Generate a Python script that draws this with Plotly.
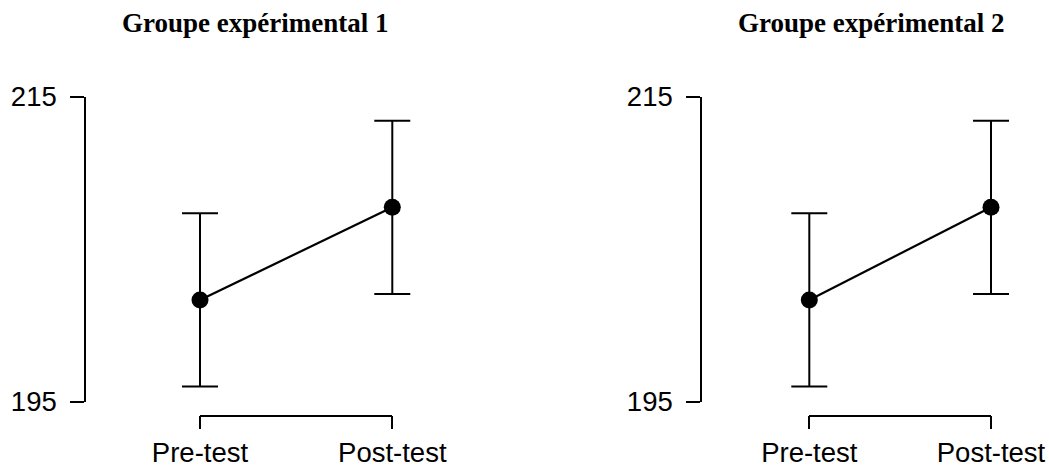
import plotly.graph_objects as go

W, H = 1049, 465

conditions = ["Pre-test", "Post-test"]
titles = ["Groupe expérimental 1", "Groupe expérimental 2"]

means_g1 = [201.67, 207.75]
err_g1 = [5.68, 5.68]
means_g2 = [201.67, 207.75]
err_g2 = [5.68, 5.68]

y_ticks = [195, 215]


def px_x(v):
    return v / W


def px_y(v):
    return 1 - v / H


fig = go.Figure()

panels = [
    dict(means=means_g1, err=err_g1, x0=200, x1=392.3, yaxis_x=85, title_x=255),
    dict(means=means_g2, err=err_g2, x0=809.3, x1=991, yaxis_x=701, title_x=871),
]

pad = 0.25  # extra range around the two conditions so caps are not clipped
tick_font = dict(family="Liberation Sans, Arial", size=27.5, color="black")

for i, p in enumerate(panels):
    n_data = str(2 * i + 1) if i else ""
    n_disp = str(2 * i + 2)
    n_y = str(i + 1) if i else ""
    span = p["x1"] - p["x0"]

    # means with error bars
    fig.add_trace(go.Scatter(
        x=[0, 1],
        y=p["means"],
        mode="lines+markers",
        line=dict(color="black", width=2.2),
        marker=dict(color="black", size=17),
        error_y=dict(type="data", array=p["err"], color="black",
                     thickness=2, width=18),
        cliponaxis=False,
        showlegend=False,
        hoverinfo="skip",
        xaxis="x" + n_data,
        yaxis="y" + n_y,
    ))
    # invisible trace so the bracket-style category axis gets drawn
    fig.add_trace(go.Scatter(
        x=conditions,
        y=p["means"],
        mode="markers",
        marker=dict(opacity=0),
        showlegend=False,
        hoverinfo="skip",
        xaxis="x" + n_disp,
        yaxis="y" + n_y,
    ))

    fig.update_layout({
        "xaxis" + n_data: dict(
            domain=[px_x(p["x0"] - pad * span), px_x(p["x1"] + pad * span)],
            range=[-pad, 1 + pad],
            anchor="y" + n_y,
            visible=False,
            automargin=False,
        ),
        "xaxis" + n_disp: dict(
            domain=[px_x(p["x0"]), px_x(p["x1"])],
            range=[0, 1],
            anchor="free",
            position=px_y(415.7),
            showline=True, linecolor="black", linewidth=1.5,
            ticks="outside", ticklen=13, tickwidth=1.5, tickcolor="black",
            showgrid=False, zeroline=False,
            tickfont=tick_font,
            ticklabelstandoff=0,
            automargin=False,
        ),
        "yaxis" + n_y: dict(
            domain=[px_y(401.7), px_y(96.7)],
            range=[195, 215],
            anchor="free",
            position=px_x(p["yaxis_x"]),
            tickvals=y_ticks,
            showline=True, linecolor="black", linewidth=1.5,
            ticks="outside", ticklen=14, tickwidth=1.5, tickcolor="black",
            showgrid=False, zeroline=False,
            tickfont=tick_font,
            ticklabelstandoff=8,
            automargin=False,
        ),
    })

    fig.add_annotation(
        text="<b>" + titles[i] + "</b>",
        x=px_x(p["title_x"]), y=px_y(23),
        xref="paper", yref="paper",
        xanchor="center", yanchor="middle",
        showarrow=False,
        font=dict(family="Liberation Serif, Times New Roman", size=27, color="black"),
    )

fig.update_layout(
    width=W, height=H,
    margin=dict(l=0, r=0, t=0, b=0, pad=0, autoexpand=False),
    paper_bgcolor="white",
    plot_bgcolor="rgba(0,0,0,0)",
)

# drop the default body margin so the figure fills the window exactly
fig.write_html("out.html", config={"displayModeBar": False},
               post_script="document.body.style.margin = '0';")
